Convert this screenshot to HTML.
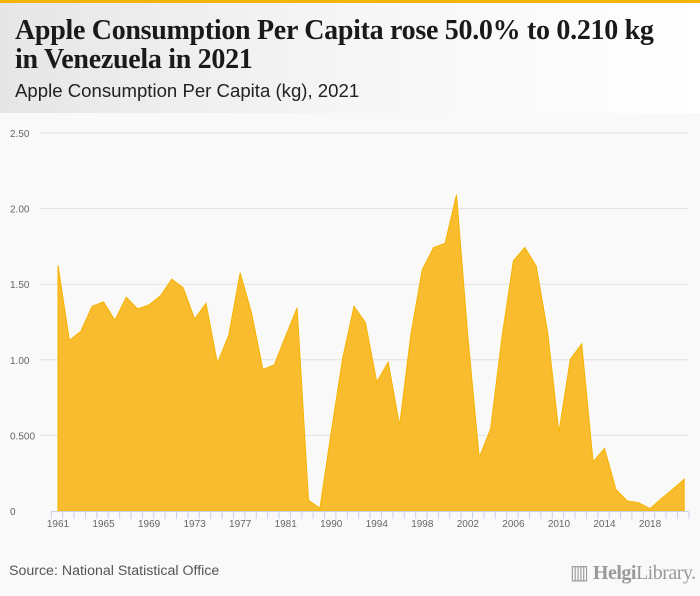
<!DOCTYPE html>
<html><head><meta charset="utf-8"><style>
body{margin:0;width:700px;height:596px;background:#f9f9f9;font-family:"Liberation Sans",sans-serif;overflow:hidden;position:relative}
#topbar{position:absolute;left:0;top:0;width:700px;height:3px;background:#f5b400}
#header{position:absolute;left:0;top:3px;width:700px;height:110px;background:linear-gradient(90deg,#e6e6e6 0%,#f6f6f6 50%,#ffffff 100%)}
#title{position:absolute;left:15px;top:13px;font-family:"Liberation Serif",serif;font-weight:bold;font-size:28px;line-height:29px;color:#1a1a1a;letter-spacing:-0.3px;white-space:nowrap}
#subtitle{position:absolute;left:15px;top:77px;font-size:18.6px;color:#222}
#source{position:absolute;left:9px;top:563px;font-size:14.2px;color:#555}
#logo{position:absolute;left:570px;top:560px;font-family:"Liberation Serif",serif;font-size:20px;color:#999;letter-spacing:-0.5px}
svg{position:absolute;left:0;top:0}
</style></head><body>
<div id="topbar"></div>
<div id="header">
<div id="title">Apple Consumption Per Capita rose 50.0% to 0.210 kg<br>in Venezuela in 2021</div>
<div id="subtitle">Apple Consumption Per Capita (kg), 2021</div>
</div>
<svg id="chart" width="700" height="596"></svg>
<div id="source">Source: National Statistical Office</div>
<div id="logo">▥ <b>Helgi</b>Library.</div>
<script>
const years=[1961,1962,1963,1964,1965,1966,1967,1968,1969,1970,1971,1972,1973,1974,1975,1976,1977,1978,1979,1980,1981,1982,1983,1984,1990,1991,1992,1993,1994,1995,1996,1997,1998,1999,2000,2001,2002,2003,2004,2005,2006,2007,2008,2009,2010,2011,2012,2013,2014,2015,2016,2017,2018,2019,2020,2021];
const values=[1.624,1.128,1.188,1.354,1.383,1.261,1.414,1.336,1.363,1.423,1.533,1.476,1.270,1.374,0.976,1.164,1.575,1.310,0.936,0.967,1.157,1.343,0.071,0.018,0.52,1.007,1.354,1.246,0.852,0.985,0.564,1.168,1.597,1.743,1.770,2.091,1.150,0.354,0.542,1.150,1.655,1.743,1.619,1.184,0.520,1.002,1.106,0.325,0.414,0.142,0.066,0.055,0.015,0.082,0.144,0.210];
const yTicks=[0,0.5,1,1.5,2,2.5];
const yTickLabels=["0","0.500","1.00","1.50","2.00","2.50"];
const xLabelYears=[1961,1965,1969,1973,1977,1981,1990,1994,1998,2002,2006,2010,2014,2018];
const NS="http://www.w3.org/2000/svg";
const svg=document.getElementById('chart');
const x0=58,step=11.385,yBase=511,yTop=133,yMax=2.5;
const X=i=>x0+i*step;
const Y=v=>yBase-(v/yMax)*(yBase-yTop);
function mk(tag,attrs){const e=document.createElementNS(NS,tag);for(const k in attrs)e.setAttribute(k,attrs[k]);svg.appendChild(e);return e;}
yTicks.forEach((t,i)=>{
 if(t>0){const g=mk('line',{x1:40,x2:688,y1:Y(t),y2:Y(t),stroke:'#e2e2e2','stroke-width':1});
 
 }
 const tx=mk('text',{x:10,y:Y(t)+4,'font-size':'10','fill':'#666','font-family':'Liberation Sans, sans-serif'});
 tx.textContent=yTickLabels[i];
 
 
});
let d='M'+X(0)+','+yBase;
values.forEach((v,i)=>{d+=' L'+X(i).toFixed(1)+','+Y(v).toFixed(1);});
d+=' L'+X(values.length-1)+','+yBase+' Z';
const area=mk('path',{d:d,fill:'#f9bc2f',stroke:'#f5b400','stroke-width':1});


const ax=mk('line',{x1:51,x2:688,y1:yBase+0.5,y2:yBase+0.5,stroke:'#c8d3e6','stroke-width':1});


for(let i=0;i<=years.length;i++){
 const tk=mk('line',{x1:X(i)-step/2-1,x2:X(i)-step/2-1,y1:yBase,y2:yBase+8,stroke:'#c8d3e6','stroke-width':1});
 
 
}
years.forEach((yr,i)=>{
 if(xLabelYears.indexOf(yr)<0)return;
 const t=mk('text',{x:X(i),y:527,'font-size':'10','fill':'#666','text-anchor':'middle','font-family':'Liberation Sans, sans-serif'});
 t.textContent=yr;
 
 
});
</script>
</body></html>
